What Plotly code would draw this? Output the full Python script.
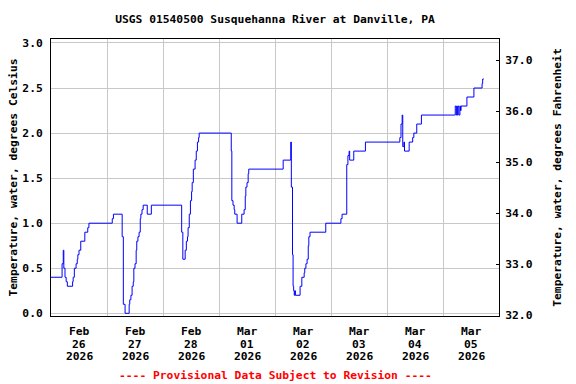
import plotly.graph_objects as go

# Water temperature readings (step changes), degrees Celsius
times = [
    "2026-02-26 00:00", "2026-02-26 04:45", "2026-02-26 05:15", "2026-02-26 05:30", "2026-02-26 06:00",
    "2026-02-26 06:30", "2026-02-26 07:00", "2026-02-26 09:15", "2026-02-26 09:30", "2026-02-26 10:00",
    "2026-02-26 10:45", "2026-02-26 11:15", "2026-02-26 11:30", "2026-02-26 12:00", "2026-02-26 12:45",
    "2026-02-26 14:30", "2026-02-26 15:45", "2026-02-26 16:15", "2026-02-27 02:15", "2026-02-27 02:45",
    "2026-02-27 06:30", "2026-02-27 07:00", "2026-02-27 07:45", "2026-02-27 09:30", "2026-02-27 09:45",
    "2026-02-27 10:15", "2026-02-27 10:45", "2026-02-27 11:15", "2026-02-27 11:30", "2026-02-27 12:00",
    "2026-02-27 12:30", "2026-02-27 12:45", "2026-02-27 13:15", "2026-02-27 13:45", "2026-02-27 14:15",
    "2026-02-27 14:30", "2026-02-27 15:00", "2026-02-27 15:30", "2026-02-27 17:15", "2026-02-27 19:00",
    "2026-02-28 08:00", "2026-02-28 08:30", "2026-02-28 09:30", "2026-02-28 10:00", "2026-02-28 10:30",
    "2026-02-28 10:45", "2026-02-28 11:15", "2026-02-28 11:45", "2026-02-28 12:15", "2026-02-28 12:30",
    "2026-02-28 13:00", "2026-02-28 13:45", "2026-02-28 14:15", "2026-02-28 14:45", "2026-02-28 15:15",
    "2026-02-28 15:30", "2026-03-01 05:15", "2026-03-01 05:30", "2026-03-01 06:00", "2026-03-01 06:30",
    "2026-03-01 06:45", "2026-03-01 07:45", "2026-03-01 09:45", "2026-03-01 10:45", "2026-03-01 11:15",
    "2026-03-01 11:30", "2026-03-01 12:00", "2026-03-01 12:30", "2026-03-01 12:45", "2026-03-02 03:30",
    "2026-03-02 06:45", "2026-03-02 07:00", "2026-03-02 07:30", "2026-03-02 07:45", "2026-03-02 08:00",
    "2026-03-02 08:15", "2026-03-02 08:30", "2026-03-02 08:45", "2026-03-02 10:45", "2026-03-02 11:30",
    "2026-03-02 12:30", "2026-03-02 12:45", "2026-03-02 13:15", "2026-03-02 13:45", "2026-03-02 14:15",
    "2026-03-02 14:30", "2026-03-02 15:00", "2026-03-02 21:45", "2026-03-03 04:15", "2026-03-03 04:45",
    "2026-03-03 06:45", "2026-03-03 07:15", "2026-03-03 07:45", "2026-03-03 08:00", "2026-03-03 09:45",
    "2026-03-03 14:45", "2026-03-04 05:30", "2026-03-04 06:00", "2026-03-04 06:30", "2026-03-04 06:45",
    "2026-03-04 07:15", "2026-03-04 07:30", "2026-03-04 09:30", "2026-03-04 11:00", "2026-03-04 11:30",
    "2026-03-04 12:45", "2026-03-04 14:45", "2026-03-05 05:15", "2026-03-05 05:45", "2026-03-05 06:15",
    "2026-03-05 06:45", "2026-03-05 07:15", "2026-03-05 07:30", "2026-03-05 07:45", "2026-03-05 10:15",
    "2026-03-05 13:15", "2026-03-05 16:45", "2026-03-05 17:00", "2026-03-05 17:30",
]
temp_c = [
    0.40, 0.55, 0.70, 0.50, 0.40,
    0.35, 0.30, 0.35, 0.40, 0.50,
    0.55, 0.60, 0.65, 0.70, 0.80,
    0.90, 0.95, 1.00, 1.05, 1.10,
    0.85, 0.10, 0.00, 0.10, 0.15,
    0.20, 0.30, 0.35, 0.50, 0.55,
    0.70, 0.80, 0.85, 0.90, 1.05,
    1.10, 1.15, 1.20, 1.10, 1.20,
    0.90, 0.60, 0.70, 0.80, 0.85,
    0.95, 1.10, 1.25, 1.35, 1.45,
    1.60, 1.70, 1.80, 1.90, 1.95,
    2.00, 1.80, 1.25, 1.20, 1.15,
    1.10, 1.00, 1.10, 1.15, 1.30,
    1.40, 1.45, 1.55, 1.60, 1.70,
    1.90, 1.40, 0.65, 0.30, 0.25,
    0.20, 0.25, 0.20, 0.30, 0.40,
    0.45, 0.50, 0.55, 0.60, 0.75,
    0.85, 0.90, 1.00, 1.05, 1.10,
    1.65, 1.75, 1.80, 1.70, 1.80,
    1.90, 1.95, 2.10, 2.20, 1.85,
    1.90, 1.80, 1.90, 1.95, 2.00,
    2.10, 2.20, 2.30, 2.20, 2.30,
    2.20, 2.30, 2.25, 2.30, 2.40,
    2.50, 2.55, 2.60, 2.60,
]
temp_f = [c * 9 / 5 + 32 for c in temp_c]

label_days = ["2026-02-26 12:00", "2026-02-27 12:00", "2026-02-28 12:00", "2026-03-01 12:00",
              "2026-03-02 12:00", "2026-03-03 12:00", "2026-03-04 12:00", "2026-03-05 12:00"]
label_month = ["Feb", "Feb", "Feb", "Mar", "Mar", "Mar", "Mar", "Mar"]
label_day = ["26", "27", "28", "01", "02", "03", "04", "05"]
label_year = ["2026"] * 8
grid_days = ["2026-02-27", "2026-02-28", "2026-03-01", "2026-03-02", "2026-03-03",
             "2026-03-04", "2026-03-05"]
c_ticks = [0.0, 0.5, 1.0, 1.5, 2.0, 2.5, 3.0]
f_ticks = [32, 33, 34, 35, 36, 37]

FONT = "DejaVu Sans Mono"
fnt = dict(family=FONT, size=11.3, color="black", weight="bold")

PLOT_TOP, PLOT_BOTTOM = 39, 316
PLOT_H = PLOT_BOTTOM - PLOT_TOP


def py(pix):
    return -(pix - PLOT_BOTTOM) / PLOT_H


fig = go.Figure()
fig.add_trace(go.Scatter(x=times, y=temp_c, mode="lines", line_shape="hv",
                         line=dict(color="#0000ff", width=1), hoverinfo="skip", showlegend=False))
fig.add_trace(go.Scatter(x=times, y=temp_f, mode="lines", line_shape="hv", yaxis="y2",
                         line=dict(color="rgba(0,0,0,0)", width=0), hoverinfo="skip", showlegend=False))

annotations = []
for rows, ypix in ((label_month, 331), (label_day, 344), (label_year, 357)):
    for xv, txt in zip(label_days, rows):
        annotations.append(dict(text=txt, x=xv, xref="x", y=py(ypix), yref="paper",
                                xanchor="center", yanchor="middle", showarrow=False, font=fnt))
annotations.append(dict(text="---- Provisional Data Subject to Revision ----", xref="paper",
                        yref="paper", x=0.5, y=py(375), xanchor="center",
                        yanchor="middle", showarrow=False,
                        font=dict(family=FONT, size=11.3, color="red", weight="bold")))

fig.update_layout(
    width=576, height=384,
    margin=dict(l=51, r=77, t=PLOT_TOP, b=384 - PLOT_BOTTOM, autoexpand=False),
    paper_bgcolor="white", plot_bgcolor="white",
    font=fnt,
    title=dict(text="USGS 01540500 Susquehanna River at Danville, PA", x=0.5, xref="paper",
               y=1 - 19 / 384, yref="container", xanchor="center", yanchor="middle",
               font=dict(family=FONT, size=11.3, color="black", weight="bold")),
    xaxis=dict(range=["2026-02-26 00:00", "2026-03-06 00:00"], tickmode="array",
               tickvals=label_days, showticklabels=False, ticks="", showgrid=False,
               showline=True, linecolor="black", linewidth=1, mirror=True,
               zeroline=False, automargin=False,
               minor=dict(tickmode="array", tickvals=grid_days, showgrid=True,
                          gridcolor="#c8c8c8", gridwidth=1, ticks="")),
    yaxis=dict(range=[-0.03, 3.044], tickmode="array", tickvals=c_ticks, tickformat=".1f",
               showgrid=True, gridcolor="#c8c8c8", gridwidth=1, ticks="",
               showline=True, linecolor="black", linewidth=1, zeroline=False,
               tickfont=fnt, automargin=False, ticklabelstandoff=5,
               title=dict(text="Temperature, water, degrees Celsius", font=fnt, standoff=2)),
    yaxis2=dict(range=[31.99, 37.42], overlaying="y", side="right", tickmode="array",
                tickvals=f_ticks, tickformat=".1f", showgrid=False, ticks="inside", ticklen=3,
                tickcolor="black", showline=True, linecolor="black", linewidth=1, zeroline=False,
                tickfont=fnt, automargin=False, ticklabelstandoff=3,
                title=dict(text="Temperature, water, degrees Fahrenheit", font=fnt, standoff=21)),
    annotations=annotations,
)

fig.write_html("out.html", config={"displayModeBar": False},
               post_script="document.body.style.margin='0';document.body.style.padding='0';")
